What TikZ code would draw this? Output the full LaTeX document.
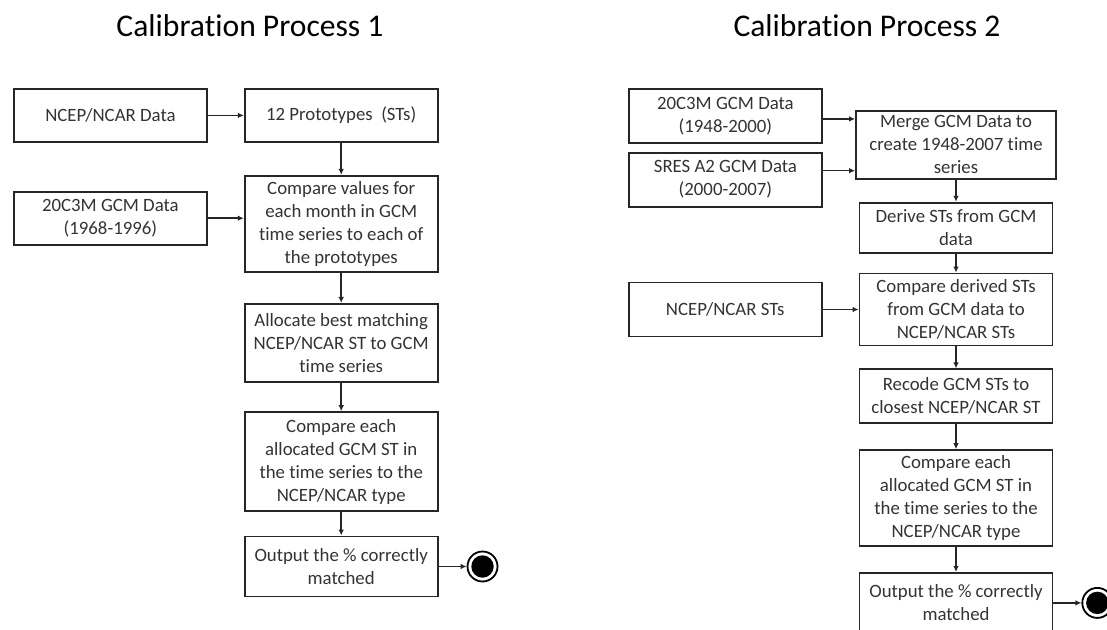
\documentclass[tikz,border=0pt]{standalone}
\usepackage{fontspec}
\setmainfont{Carlito}[Ligatures=NoCommon]
\usepackage{tikz}
\usetikzlibrary{arrows.meta,positioning}

\begin{document}
\begin{tikzpicture}[
  font=\fontsize{9.4}{11.5}\selectfont,
  >={Latex[length=3pt,width=2.8pt]},
  box/.style={
    draw=black!85, line width=0.9pt,
    align=center, inner sep=1pt, text=black!80,
    minimum width=96.5pt, minimum height=26.5pt
  },
  ttl/.style={font=\fontsize{15.8}{19}\selectfont, anchor=base},
  endpt/.style={
    circle, draw=black, line width=0.9pt, minimum size=15pt, inner sep=0pt,
    path picture={\fill[black] (path picture bounding box.center) circle (5.6pt);}
  },
  arr/.style={->, line width=0.75pt, black!85}
]
  \useasboundingbox (0,0) rectangle (553.5pt,-315pt);

  \node[ttl] (ttl1) at (125pt,-18.5pt) {Calibration Process 1};
  \node[ttl] (ttl2) at (433.5pt,-18.5pt) {Calibration Process 2};

  % process 1
  \node[box, anchor=north west] (ncep) at (6.5pt,-44pt) {NCEP/NCAR Data};
  \node[box, right=18pt of ncep] (proto) {12 Prototypes~ (STs)};
  \node[box, below=16pt of proto, minimum height=48pt] (cmpval) {%
    Compare values for\\ each month in GCM\\ time series to each of\\ the prototypes};
  \node[box, below=24pt of ncep] (gcm) {20C3M GCM Data\\ (1968-1996)};
  \node[box, below=15.2pt of cmpval, minimum height=39pt] (alloc) {%
    Allocate best matching\\ NCEP/NCAR ST to GCM\\ time series};
  \node[box, below=14.2pt of alloc, minimum height=49.5pt] (cmpeach) {%
    Compare each\\ allocated GCM ST in\\ the time series to the\\ NCEP/NCAR type};
  \node[box, below=11.8pt of cmpeach, minimum height=30pt] (out1) {%
    Output the \% correctly\\ matched};
  \node[endpt, right=14pt of out1] (fin1) {};

  \foreach \a/\b in {ncep/proto, proto/cmpval, cmpval/alloc, alloc/cmpeach,
                     cmpeach/out1, out1/fin1}
    \draw[arr] (\a) -- (\b);
  \draw[arr] (gcm.east) -- (gcm.east -| cmpval.west);

  % process 2
  \node[box, anchor=north west, minimum height=27pt] (hist) at (314pt,-44pt) {%
    20C3M GCM Data\\ (1948-2000)};
  \node[box, below=4pt of hist, minimum height=27pt] (sres) {%
    SRES A2 GCM Data\\ (2000-2007)};
  \node[box, anchor=north, minimum width=100pt, minimum height=34pt]
    (merge) at (478pt,-55pt) {%
    Merge GCM Data to\\ create 1948-2007 time\\ series};
  \node[box, below=11pt of merge, minimum height=25pt] (derive) {%
    Derive STs from GCM\\ data};
  \node[box, below=9.5pt of derive, minimum height=36pt] (cmpder) {%
    Compare derived STs\\ from GCM data to\\ NCEP/NCAR STs};
  \node[box, left=18pt of cmpder, minimum height=27pt] (ncst) {NCEP/NCAR STs};
  \node[box, below=11pt of cmpder, minimum height=27pt] (recode) {%
    Recode GCM STs to\\ closest NCEP/NCAR ST};
  \node[box, below=12.5pt of recode, minimum height=48pt] (cmpeach2) {%
    Compare each\\ allocated GCM ST in\\ the time series to the\\ NCEP/NCAR type};
  \node[box, below=12.5pt of cmpeach2, minimum height=30pt] (out2) {%
    Output the \% correctly\\ matched};
  \node[endpt, right=14pt of out2] (fin2) {};

  \draw[arr] ([yshift=-1.5pt]hist.east) -- ([yshift=-1.5pt]hist.east -| merge.west);
  \draw[arr] ([yshift=4.5pt]sres.east) -- ([yshift=4.5pt]sres.east -| merge.west);
  \foreach \a/\b in {merge/derive, derive/cmpder, ncst/cmpder, cmpder/recode,
                     recode/cmpeach2, cmpeach2/out2, out2/fin2}
    \draw[arr] (\a) -- (\b);
\end{tikzpicture}
\end{document}
